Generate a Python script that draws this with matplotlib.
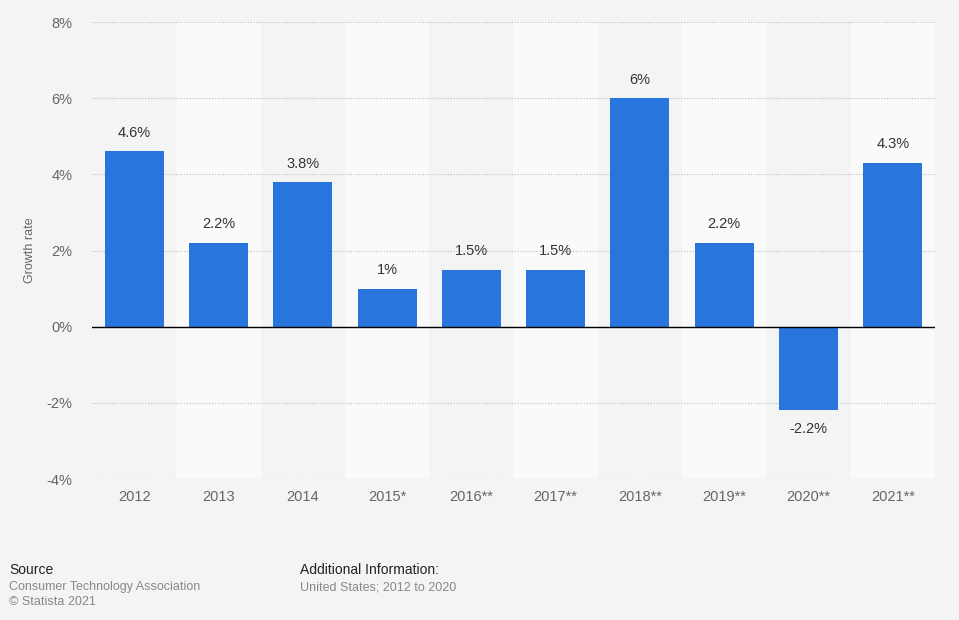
import matplotlib.pyplot as plt

plt.rcParams['font.family'] = ['Liberation Sans', 'DejaVu Sans']

years = ["2012", "2013", "2014", "2015*", "2016**", "2017**", "2018**", "2019**", "2020**", "2021**"]
growth = [4.6, 2.2, 3.8, 1.0, 1.5, 1.5, 6.0, 2.2, -2.2, 4.3]
labels = ["4.6%", "2.2%", "3.8%", "1%", "1.5%", "1.5%", "6%", "2.2%", "-2.2%", "4.3%"]

bg = "#f4f4f4"
fig = plt.figure(figsize=(9.59, 6.20), dpi=100, facecolor=bg)
ax = fig.add_axes([0.0959, 0.2274, 0.879, 0.7371], facecolor=bg)

x = list(range(len(years)))
# lighter bands behind every other column
for i in x:
    if i % 2 == 1:
        ax.axvspan(i - 0.5, i + 0.5, color="#fafafa", zorder=0, lw=0)

ax.bar(x, growth, width=0.7, color="#2876dd", zorder=3)

for i, (v, lab) in enumerate(zip(growth, labels)):
    if v >= 0:
        ax.text(i, v + 0.3, lab, ha="center", va="bottom", fontsize=10.5, color="#333333", zorder=4)
    else:
        ax.text(i, v - 0.3, lab, ha="center", va="top", fontsize=10.5, color="#333333", zorder=4)

ax.set_xlim(-0.5, len(years) - 0.5)
ax.set_ylim(-4, 8)
ax.set_yticks(range(-4, 9, 2))
ax.set_yticklabels([f"{t}%" for t in range(-4, 9, 2)])
ax.set_xticks(x)
ax.set_xticklabels(years)
ax.tick_params(axis="both", length=0, labelsize=10.5, labelcolor="#666666")
ax.tick_params(axis="y", pad=14)
ax.tick_params(axis="x", pad=8)

ax.yaxis.grid(True, linestyle=(0, (1, 1.5)), color="#bbbbbb", linewidth=0.8, zorder=1)
ax.axhline(0, color="black", linewidth=1, zorder=4)
for s in ax.spines.values():
    s.set_visible(False)

ax.set_ylabel("Growth rate", fontsize=9, color="#666666", labelpad=8)

fig.text(9 / 959, 1 - 570 / 620, "Source", fontsize=10, color="#222222", va="center")
fig.text(9 / 959, 1 - 587 / 620, "Consumer Technology Association", fontsize=9, color="#888888", va="center")
fig.text(9 / 959, 1 - 602 / 620, "\u00a9 Statista 2021", fontsize=9, color="#888888", va="center")
fig.text(300 / 959, 1 - 570 / 620, "Additional Information:", fontsize=10, color="#222222", va="center")
fig.text(300 / 959, 1 - 587 / 620, "United States; 2012 to 2020", fontsize=9, color="#888888", va="center")

fig.savefig("out.png", dpi=100, facecolor=bg)
